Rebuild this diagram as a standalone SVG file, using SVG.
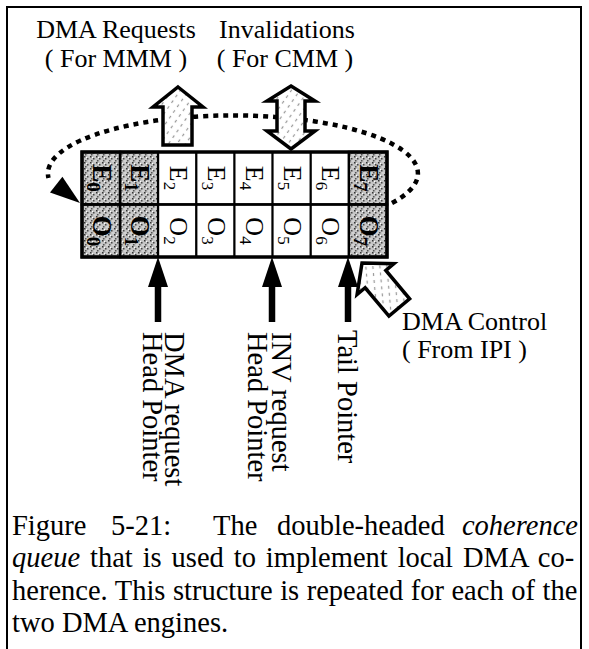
<svg xmlns="http://www.w3.org/2000/svg" width="589" height="649" viewBox="0 0 589 649">
<style>
text{font-family:"Liberation Serif","Times New Roman",serif;fill:#000}
.lbl{font-size:26px}
.ptr{font-size:28.5px}
.cap{font-size:28.5px}
.cell{fill:#fff;stroke:#000;stroke-width:2}
.shade{fill:url(#speck);stroke:#000;stroke-width:2.5}
.ct{font-size:26px;text-anchor:middle}
.cts{font-weight:bold;font-size:27px}
.hollow{fill:url(#hatch);stroke:#000;stroke-width:3.5;stroke-linejoin:miter}
.ptrline{stroke:#000;stroke-width:6.5}
</style>
<defs>
<pattern id="speck" width="6" height="6" patternUnits="userSpaceOnUse">
<rect width="6" height="6" fill="#c4c4c4"/>
<rect x="0" y="0" width="1.5" height="1.5" fill="#333"/>
<rect x="3" y="2" width="1.5" height="1.5" fill="#444"/>
<rect x="1" y="4" width="1.5" height="1.5" fill="#555"/>
<rect x="4.5" y="4.5" width="1" height="1" fill="#fff"/>
<rect x="2" y="1" width="1" height="1" fill="#fff"/>
</pattern>
<pattern id="hatch" width="7" height="7" patternUnits="userSpaceOnUse" patternTransform="rotate(-55)">
<rect width="7" height="7" fill="#fff"/>
<line x1="0" y1="3.5" x2="7" y2="3.5" stroke="#999" stroke-width="1.2" stroke-dasharray="3 4"/>
</pattern>
</defs>
<rect x="7" y="7" width="574" height="680" fill="none" stroke="#000" stroke-width="2"/>

<g id="connectors">
<path id="wrap" d="M392,203 A185,58 0 1 0 48.5,178" fill="none" stroke="#000" stroke-width="4.5" stroke-dasharray="5 5"/>
<polygon points="80,203 50,192.6 62.4,176.8" fill="#000"/>
<g id="ptr-dma">
<line class="ptrline" x1="158" y1="280" x2="158" y2="322"/>
<polygon points="158,257 168,287 148,287" fill="#000"/>
</g>
<g id="ptr-inv">
<line class="ptrline" x1="272" y1="280" x2="272" y2="322"/>
<polygon points="272,257 282,287 262,287" fill="#000"/>
</g>
<g id="ptr-tail">
<line class="ptrline" x1="348" y1="280" x2="348" y2="322"/>
<polygon points="348,257 358,287 338,287" fill="#000"/>
</g>
<path id="arr-dma-req" class="hollow" d="M178,87 L203,107 L192,107 L192,145 L163,145 L163,107 L153,107 Z"/>
<path id="arr-inv" class="hollow" d="M291,86 L315,101 L305,101 L305,131 L315,131 L291,149 L267,131 L277,131 L277,101 L267,101 Z"/>
<path id="arr-ctrl" class="hollow" transform="translate(362,263) rotate(-40)" d="M0,0 L24,21 L13.5,21 L13.5,58 L-13.5,58 L-13.5,21 L-24,21 Z"/>
</g>

<g id="queue">
<rect class="shade" x="82" y="152" width="38.1" height="52.5"/>
<rect class="shade" x="120.1" y="152" width="38.1" height="52.5"/>
<rect class="cell" x="158.2" y="152" width="38.1" height="52.5"/>
<rect class="cell" x="196.4" y="152" width="38.1" height="52.5"/>
<rect class="cell" x="234.5" y="152" width="38.1" height="52.5"/>
<rect class="cell" x="272.6" y="152" width="38.1" height="52.5"/>
<rect class="cell" x="310.8" y="152" width="38.1" height="52.5"/>
<rect class="shade" x="348.9" y="152" width="38.1" height="52.5"/>
<rect class="shade" x="82" y="204.5" width="38.1" height="52.5"/>
<rect class="shade" x="120.1" y="204.5" width="38.1" height="52.5"/>
<rect class="cell" x="158.2" y="204.5" width="38.1" height="52.5"/>
<rect class="cell" x="196.4" y="204.5" width="38.1" height="52.5"/>
<rect class="cell" x="234.5" y="204.5" width="38.1" height="52.5"/>
<rect class="cell" x="272.6" y="204.5" width="38.1" height="52.5"/>
<rect class="cell" x="310.8" y="204.5" width="38.1" height="52.5"/>
<rect class="shade" x="348.9" y="204.5" width="38.1" height="52.5"/>
<rect x="82" y="152" width="305" height="105" fill="none" stroke="#000" stroke-width="3.5"/>
<line x1="82" y1="204.5" x2="387" y2="204.5" stroke="#000" stroke-width="2.5"/>
<text class="ct cts" transform="translate(93,178) rotate(90)">E<tspan dy="6" font-size="19">0</tspan></text>
<text class="ct cts" transform="translate(131.1,178) rotate(90)">E<tspan dy="6" font-size="19">1</tspan></text>
<text class="ct" transform="translate(169.7,178) rotate(90)">E<tspan dy="6" font-size="17">2</tspan></text>
<text class="ct" transform="translate(207.8,178) rotate(90)">E<tspan dy="6" font-size="17">3</tspan></text>
<text class="ct" transform="translate(246,178) rotate(90)">E<tspan dy="6" font-size="17">4</tspan></text>
<text class="ct" transform="translate(284.1,178) rotate(90)">E<tspan dy="6" font-size="17">5</tspan></text>
<text class="ct" transform="translate(322.2,178) rotate(90)">E<tspan dy="6" font-size="17">6</tspan></text>
<text class="ct cts" transform="translate(359.8,178) rotate(90)">E<tspan dy="6" font-size="19">7</tspan></text>
<text class="ct cts" transform="translate(93,231) rotate(90)">O<tspan dy="6" font-size="19">0</tspan></text>
<text class="ct cts" transform="translate(131.1,231) rotate(90)">O<tspan dy="6" font-size="19">1</tspan></text>
<text class="ct" transform="translate(169.7,231) rotate(90)">O<tspan dy="6" font-size="17">2</tspan></text>
<text class="ct" transform="translate(207.8,231) rotate(90)">O<tspan dy="6" font-size="17">3</tspan></text>
<text class="ct" transform="translate(246,231) rotate(90)">O<tspan dy="6" font-size="17">4</tspan></text>
<text class="ct" transform="translate(284.1,231) rotate(90)">O<tspan dy="6" font-size="17">5</tspan></text>
<text class="ct" transform="translate(322.2,231) rotate(90)">O<tspan dy="6" font-size="17">6</tspan></text>
<text class="ct cts" transform="translate(359.8,231) rotate(90)">O<tspan dy="6" font-size="19">7</tspan></text>
</g>

<g id="label-dma-requests">
<text class="lbl" x="116" y="38" text-anchor="middle">DMA Requests</text>
<text class="lbl" x="116" y="67" text-anchor="middle">( For MMM )</text>
</g>
<g id="label-invalidations">
<text class="lbl" x="287" y="38" text-anchor="middle">Invalidations</text>
<text class="lbl" x="285" y="67" text-anchor="middle">( For CMM )</text>
</g>
<g id="label-dma-control">
<text class="lbl" x="402" y="330">DMA Control</text>
<text class="lbl" x="402" y="358">( From IPI )</text>
</g>
<g id="label-dma-head">
<text class="ptr" transform="translate(165,332) rotate(90)">DMA request</text>
<text class="ptr" transform="translate(143,332) rotate(90)">Head Pointer</text>
</g>
<g id="label-inv-head">
<text class="ptr" transform="translate(272,332) rotate(90)">INV request</text>
<text class="ptr" transform="translate(248,332) rotate(90)">Head Pointer</text>
</g>
<g id="label-tail">
<text class="ptr" transform="translate(338,330) rotate(90)">Tail Pointer</text>
</g>

<g id="caption">
<text class="cap" x="12" y="535">Figure</text>
<text class="cap" x="111" y="535">5-21:</text>
<text class="cap" x="213" y="535">The</text>
<text class="cap" x="277" y="535">double-headed</text>
<text class="cap" x="578" y="535" text-anchor="end" font-style="italic">coherence</text>
<text class="cap" x="12" y="567" word-spacing="2.8"><tspan font-style="italic">queue</tspan> that is used to implement local DMA co-</text>
<text class="cap" x="12" y="600" word-spacing="0.4">herence. This structure is repeated for each of the</text>
<text class="cap" x="12" y="632">two DMA engines.</text>
</g>
</svg>
